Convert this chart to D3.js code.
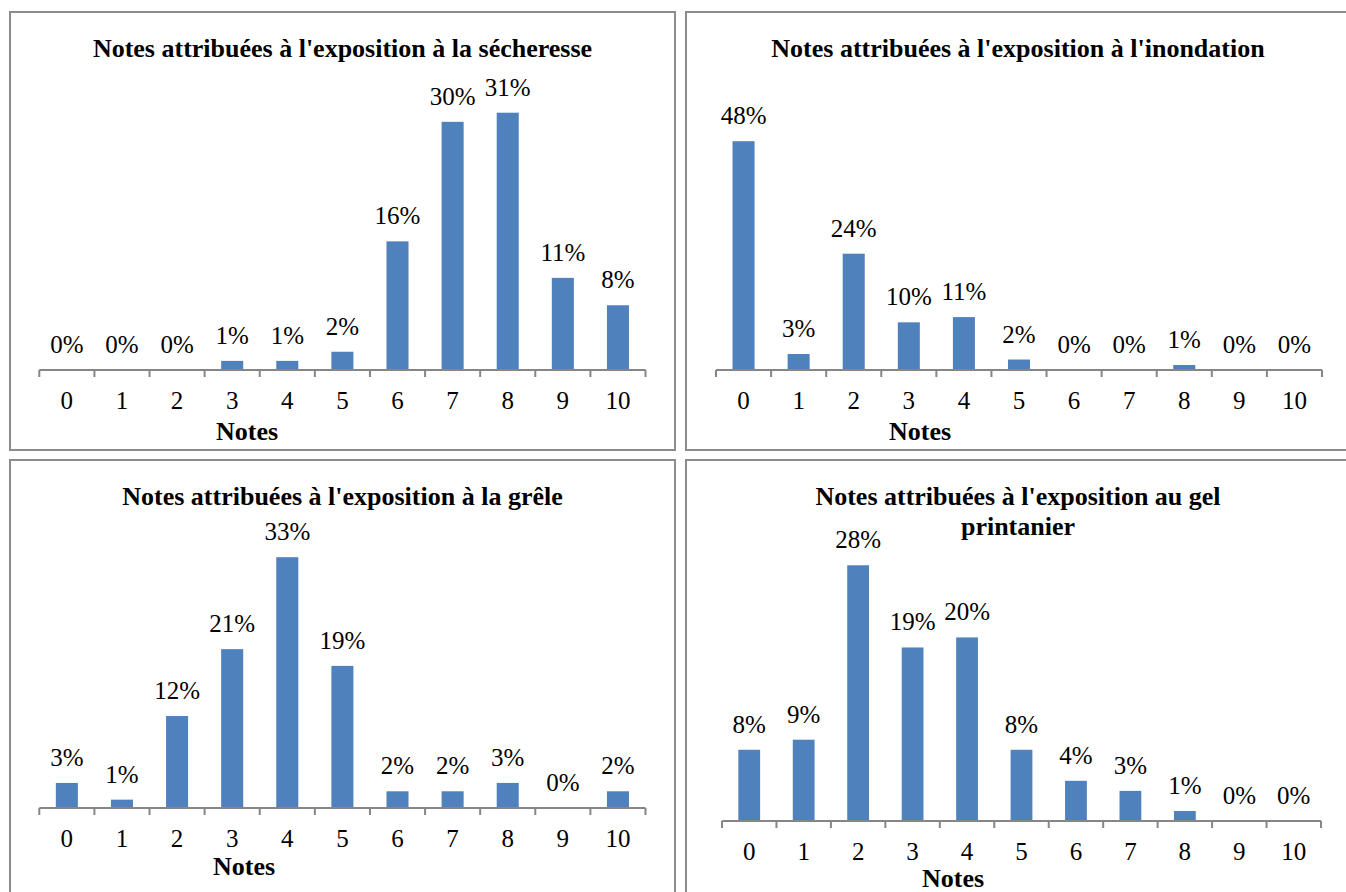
<!DOCTYPE html>
<html><head><meta charset="utf-8">
<script src="https://cdnjs.cloudflare.com/ajax/libs/d3/7.8.5/d3.min.js"></script>
<style>
  svg text { font-family: "Times New Roman", "Liberation Serif", serif; }
</style>
</head>
<body style="margin:0">
<script>
// categories (notes 0..10)
const notes = ["0", "1", "2", "3", "4", "5", "6", "7", "8", "9", "10"];

// share of answers per note, in %
const secheresse = [0, 0, 0, 1.1, 1.1, 2.2, 15.5, 29.9, 31.0, 11.1, 7.8];
const inondation = [48.0, 3.35, 24.4, 10.0, 11.1, 2.2, 0, 0, 1.05, 0, 0];
const grele = [3.3, 1.1, 12.1, 20.9, 33.0, 18.7, 2.2, 2.2, 3.3, 0, 2.2];
const gel = [7.8, 8.9, 28.0, 19.0, 20.1, 7.8, 4.4, 3.3, 1.1, 0, 0];

const titles = [
  ["Notes attribuées à l'exposition à la sécheresse"],
  ["Notes attribuées à l'exposition à l'inondation"],
  ["Notes attribuées à l'exposition à la grêle"],
  ["Notes attribuées à l'exposition au gel", "printanier"]
];
const axisTitle = "Notes";
const yMax = [35, 60, 35, 30];

const series = [secheresse, inondation, grele, gel];

// panel boxes and plot areas
const panels = [
  { box: [10, 12, 675, 450], left: 39.3, right: 645.5, axisY: 370, titleY: [57], notesX: 247, notesDy: 70 },
  { box: [686, 12, 1350, 450], left: 716, right: 1322, axisY: 370, titleY: [57], notesX: 920, notesDy: 70 },
  { box: [10, 460, 675, 900], left: 39.3, right: 645.5, axisY: 808, titleY: [505], notesX: 244, notesDy: 67 },
  { box: [686, 460, 1350, 900], left: 722, right: 1321, axisY: 821, titleY: [505, 535], notesX: 953, notesDy: 66 }
];
const plotTops = [79.5, 84, 542, 547];

const svg = d3.select("body").append("svg").attr("width", 1346).attr("height", 892);

const barColor = "#4f81bd";
const axisGrey = "#868686";

panels.forEach(function(p, i) {
  const g = svg.append("g");
  const values = series[i];

  // frame
  g.append("rect")
    .attr("x", p.box[0])
    .attr("y", p.box[1])
    .attr("width", p.box[2] - p.box[0])
    .attr("height", p.box[3] - p.box[1])
    .attr("fill", "none")
    .attr("stroke", "#8c8c8c")
    .attr("stroke-width", 2);

  // title
  g.selectAll("text.title")
    .data(titles[i])
    .enter()
    .append("text")
      .attr("class", "title")
      .attr("x", (p.box[0] + p.box[2]) / 2)
      .attr("y", function(d, k) { return p.titleY[k]; })
      .attr("text-anchor", "middle")
      .attr("font-size", 26)
      .attr("font-weight", "bold")
      .text(function(d) { return d; });

  const x = d3.scaleBand()
    .domain(notes)
    .range([p.left, p.right])
    .paddingInner(0.6)
    .paddingOuter(0.3);
  const xEdges = d3.scaleBand()
    .domain(notes)
    .range([p.left, p.right]);

  const y = d3.scaleLinear()
    .domain([0, yMax[i]])
    .range([p.axisY, plotTops[i]]);

  // bars
  g.selectAll("rect.bar")
    .data(values)
    .enter()
    .append("rect")
      .attr("class", "bar")
      .attr("x", function(d, j) { return x(notes[j]); })
      .attr("y", function(d) { return y(d); })
      .attr("width", x.bandwidth())
      .attr("height", function(d) { return p.axisY - y(d); })
      .attr("fill", barColor);

  // value labels
  g.selectAll("text.val")
    .data(values)
    .enter()
    .append("text")
      .attr("class", "val")
      .attr("x", function(d, j) { return x(notes[j]) + x.bandwidth() / 2; })
      .attr("y", function(d) { return y(d) - 17; })
      .attr("text-anchor", "middle")
      .attr("font-size", 25)
      .text(function(d) { return Math.round(d) + "%"; });

  // axis line + ticks between categories
  const edges = notes.map(function(n) { return xEdges(n); }).concat([p.right]);
  g.append("line")
    .attr("x1", p.left).attr("x2", p.right)
    .attr("y1", p.axisY).attr("y2", p.axisY)
    .attr("stroke", axisGrey).attr("stroke-width", 2);
  g.selectAll("line.tick")
    .data(edges)
    .enter()
    .append("line")
      .attr("class", "tick")
      .attr("x1", function(d) { return d; })
      .attr("x2", function(d) { return d; })
      .attr("y1", p.axisY)
      .attr("y2", p.axisY + 7)
      .attr("stroke", axisGrey)
      .attr("stroke-width", 2);

  // tick labels through d3 axis
  const ax = g.append("g")
    .attr("transform", "translate(0," + p.axisY + ")")
    .call(d3.axisBottom(xEdges).tickSize(0).tickPadding(21));
  ax.select(".domain").remove();
  ax.attr("font-family", null).attr("font-size", null);
  ax.selectAll("text")
    .attr("font-size", 25)
    .attr("fill", "#000");

  // axis title
  g.append("text")
    .attr("x", p.notesX)
    .attr("y", p.axisY + p.notesDy)
    .attr("text-anchor", "middle")
    .attr("font-size", 26)
    .attr("font-weight", "bold")
    .text(axisTitle);
});
</script></body></html>
